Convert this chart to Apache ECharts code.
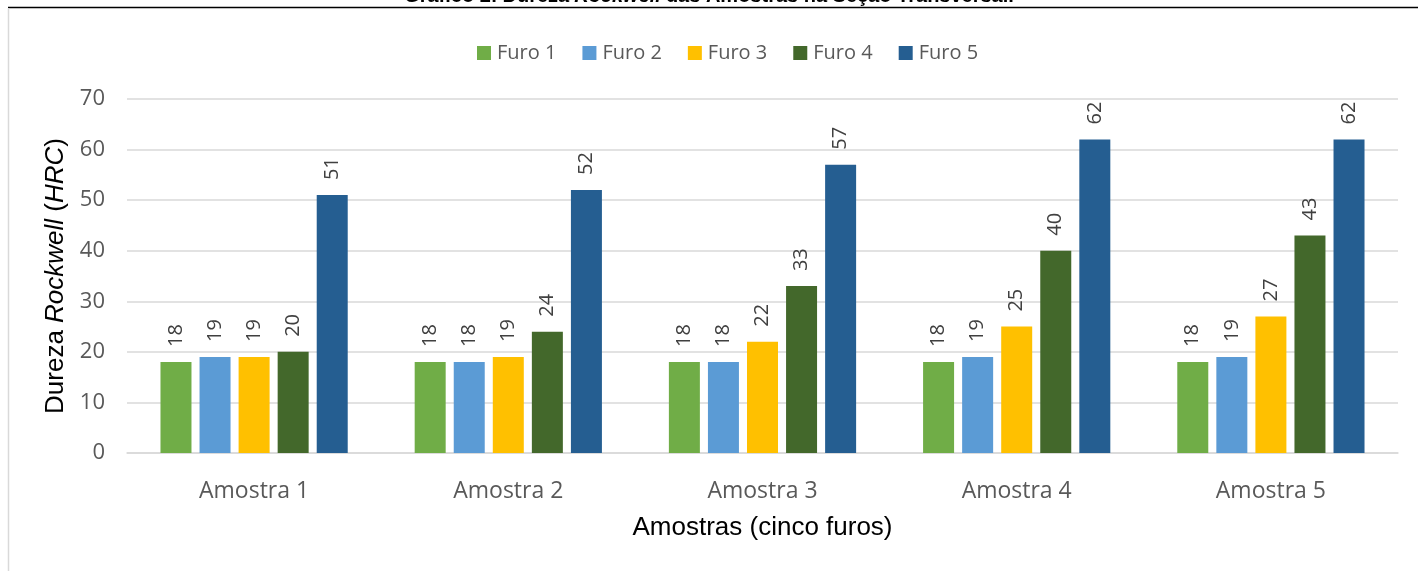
<!DOCTYPE html>
<html>
<head>
<meta charset="utf-8">
<script src="https://cdn.jsdelivr.net/npm/echarts@6/dist/echarts.min.js"></script>
<style>
  html, body { margin: 0; padding: 0; background: #fff; }
  #chart { width: 1418px; height: 571px; }
</style>
</head>
<body>
<div id="chart"></div>
<script>
// Rockwell hardness per sample, five holes each
const categories = ['Amostra 1', 'Amostra 2', 'Amostra 3', 'Amostra 4', 'Amostra 5'];
const seriesNames = ['Furo 1', 'Furo 2', 'Furo 3', 'Furo 4', 'Furo 5'];
const furo1 = [18, 18, 18, 18, 18];
const furo2 = [19, 18, 18, 19, 19];
const furo3 = [19, 19, 22, 25, 27];
const furo4 = [20, 24, 33, 40, 43];
const furo5 = [51, 52, 57, 62, 62];
const colors = ['#70AD47', '#5B9BD5', '#FFC000', '#43682B', '#255E91'];

const allValues = [furo1, furo2, furo3, furo4, furo5];
const labelFont = '"Open Sans", "Noto Sans", sans-serif';
const serifless = '"Liberation Sans", Arial, sans-serif';

const chart = echarts.init(document.getElementById('chart'), null, { renderer: 'canvas' });

chart.setOption({
  animation: false,
  backgroundColor: '#ffffff',
  title: {
    text: '{b|Gráfico 2:} {n|Dureza} {i|Rockwell} {n|das Amostras na Seção Transversal.}',
    left: 'center',
    top: -14,
    padding: 0,
    textStyle: {
      rich: {
        b: { fontFamily: serifless, fontWeight: 'bold', fontSize: 20, color: '#000' },
        n: { fontFamily: serifless, fontSize: 20, color: '#000' },
        i: { fontFamily: serifless, fontStyle: 'italic', fontSize: 20, color: '#000' }
      }
    }
  },
  graphic: [
    { type: 'rect', shape: { x: 0, y: 8, width: 1418, height: 563 }, style: { fill: '#fff' }, z: -1 },
    { type: 'line', shape: { x1: 8, y1: 7.5, x2: 1418, y2: 7.5 }, style: { stroke: '#000', lineWidth: 1.5 } },
    { type: 'line', shape: { x1: 8.5, y1: 8, x2: 8.5, y2: 571 }, style: { stroke: '#d9d9d9', lineWidth: 1.5 } }
  ],
  legend: {
    data: seriesNames,
    left: 472,
    top: 38,
    itemWidth: 14,
    itemHeight: 14,
    itemGap: 26,
    icon: 'rect',
    textStyle: { fontFamily: labelFont, fontSize: 20, color: '#595959', padding: [0, 0, 0, 1] }
  },
  grid: { left: 127, right: 20, top: 99, bottom: 118 },
  xAxis: {
    type: 'category',
    data: categories,
    axisLine: { show: true, lineStyle: { color: '#d9d9d9', width: 1.5 } },
    axisTick: { show: false },
    axisLabel: { fontFamily: labelFont, fontSize: 23, color: '#595959', margin: 27 },
    name: 'Amostras (cinco furos)',
    nameLocation: 'middle',
    nameGap: 62,
    nameTextStyle: { fontFamily: serifless, fontSize: 26, color: '#000' }
  },
  yAxis: {
    type: 'value',
    min: 0,
    max: 70,
    interval: 10,
    axisLine: { show: false },
    axisTick: { show: false },
    splitLine: { lineStyle: { color: '#d9d9d9', width: 1.5 } },
    axisLabel: { fontFamily: labelFont, fontSize: 22, color: '#595959', margin: 22 },
    name: '{n|Dureza }{i|Rockwell}{n| (}{i|HRC}{n|)}',
    nameLocation: 'middle',
    nameGap: 54,
    nameRotate: 90,
    nameTextStyle: {
      rich: {
        n: { fontFamily: serifless, fontSize: 26, color: '#000' },
        i: { fontFamily: serifless, fontStyle: 'italic', fontSize: 26, color: '#000' }
      }
    }
  },
  series: seriesNames.map((name, i) => ({
    name: name,
    type: 'bar',
    data: allValues[i],
    barWidth: 31,
    barGap: '26%',
    itemStyle: { color: colors[i] },
    label: {
      show: true,
      position: 'top',
      rotate: 90,
      align: 'left',
      verticalAlign: 'middle',
      distance: 15,
      fontFamily: labelFont,
      fontSize: 20,
      color: '#404040'
    }
  }))
});
</script>
</body>
</html>
